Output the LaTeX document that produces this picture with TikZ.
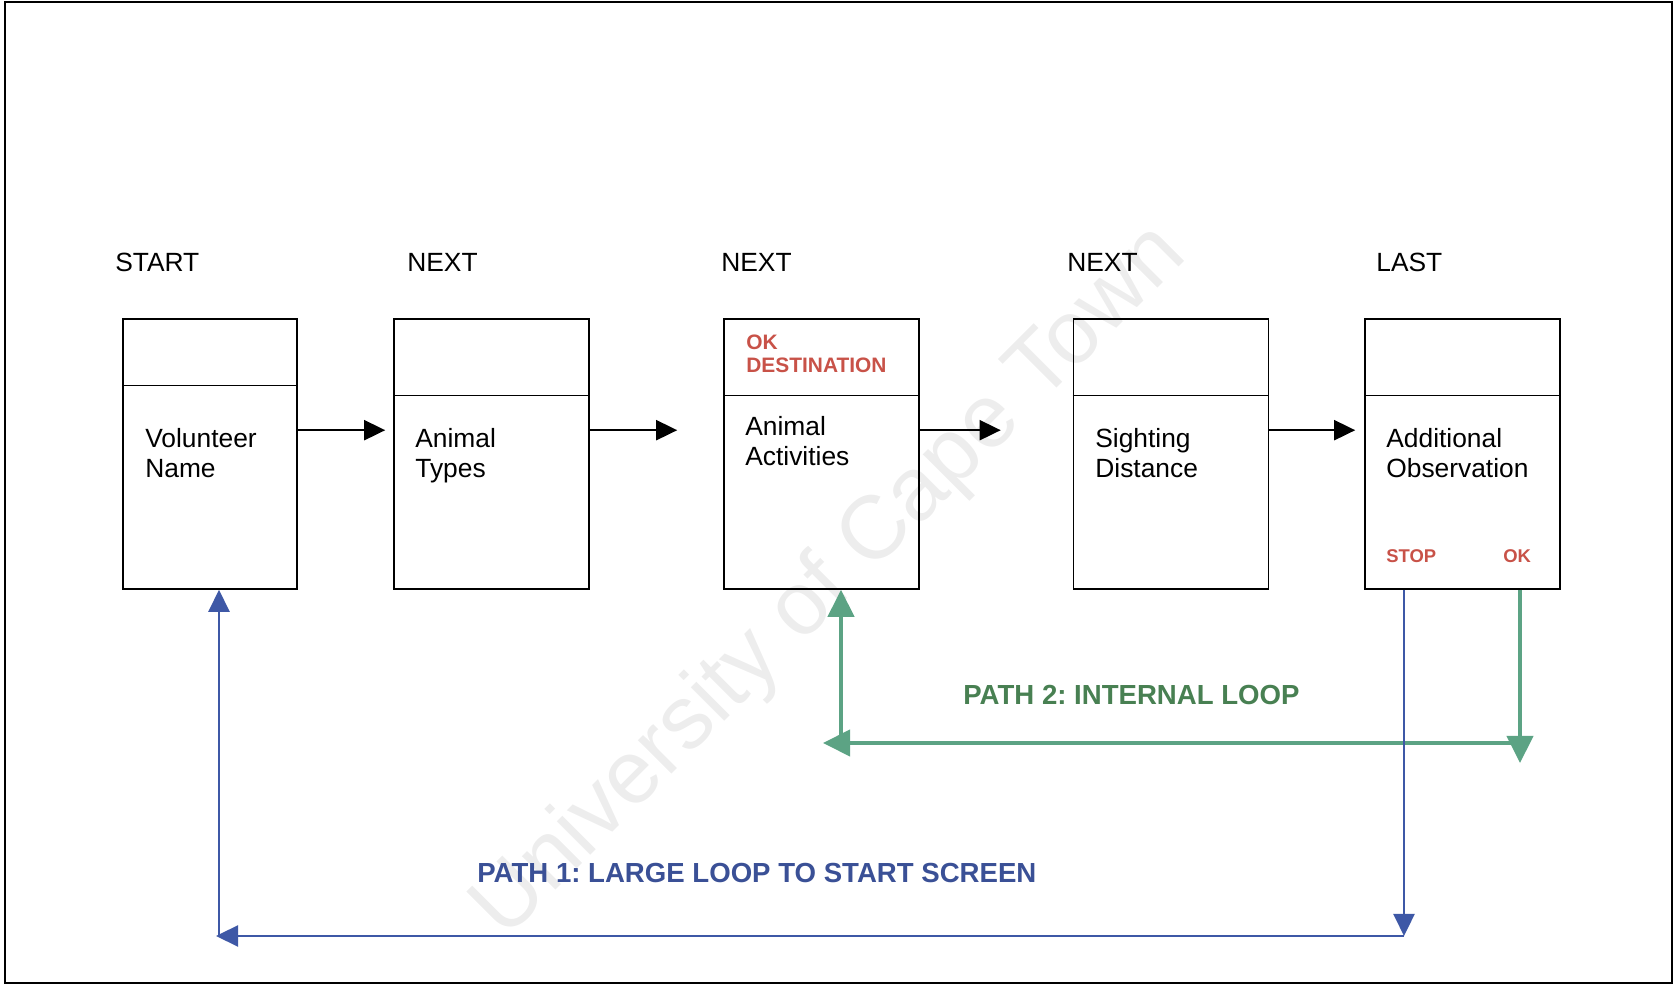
\documentclass[tikz,border=0pt]{standalone}
\usepackage{fontspec}
\setmainfont{Liberation Sans}
\usetikzlibrary{arrows.meta}
\frenchspacing

\definecolor{okred}{RGB}{200,82,72}
\definecolor{loopgreen}{RGB}{92,163,132}
\definecolor{labelgreen}{RGB}{72,128,82}
\definecolor{loopblue}{RGB}{62,88,166}
\definecolor{labelblue}{RGB}{58,80,150}

\begin{document}
\begin{tikzpicture}[
    screen/.style={rectangle, draw, line width=0.9pt, minimum width=3.9cm, minimum height=5.4cm, inner sep=0pt},
    divider/.style={line width=0.7pt},
    hdr/.style={anchor=base west, inner sep=0pt, font=\fontsize{15}{17}\selectfont},
    boxtext/.style={anchor=north west, align=left, inner sep=0pt, font=\fontsize{15}{17}\selectfont},
    redtext/.style={inner sep=0pt, align=left, text=okred, font=\bfseries\fontsize{11.9}{13}\selectfont},
    pathlabel/.style={anchor=base west, inner sep=0pt, font=\bfseries\fontsize{15.7}{18}\selectfont},
    flow/.style={-{Triangle[length=4.2mm, width=4mm]}, line width=1.1pt},
    greenflow/.style={-{Triangle[length=5.4mm, width=5.2mm]}, line width=2.4pt, draw=loopgreen, fill=loopgreen},
    blueflow/.style={-{Triangle[length=4.4mm, width=4.2mm]}, line width=1.3pt, draw=loopblue, fill=loopblue},
    watermark/.style={rotate=45, text=black!7, font=\fontsize{51}{53}\selectfont}
]
\useasboundingbox (0,0) rectangle (33.46,19.70);
% Faint stamp behind everything
\node[watermark] (wm) at (16.62,8.06) {University of Cape Town};
% Outer frame
\draw[line width=1pt] (0.10,0.04) rectangle (33.44,19.66);
% Step headings
\node[hdr] (h1) at (2.30,14.26) {START};
\node[hdr] (h2) at (8.14,14.26) {NEXT};
\node[hdr] (h3) at (14.42,14.26) {NEXT};
\node[hdr] (h4) at (21.34,14.26) {NEXT};
\node[hdr] (h5) at (27.52,14.26) {LAST};
% Screens
\node[screen, minimum width=3.48cm] (s1) at (4.20,10.62) {};
\node[screen] (s2) at (9.83,10.62) {};
\node[screen] (s3) at (16.43,10.62) {};
\node[screen] (s4) at (23.42,10.62) {};
\node[screen] (s5) at (29.25,10.62) {};
\draw[divider] ([yshift=-1.34cm]s1.north west) -- ([yshift=-1.34cm]s1.north east);
\foreach \s in {s2,s3,s4,s5}
    \draw[divider] ([yshift=-1.54cm]\s.north west) -- ([yshift=-1.54cm]\s.north east);
% Screen contents
\node[boxtext] (t1) at (2.90,11.14) {Volunteer\\Name};
\node[boxtext] (t2) at (8.30,11.14) {Animal\\Types};
\node[boxtext] (t3) at (14.90,11.38) {Animal\\Activities};
\node[boxtext] (t4) at (21.90,11.14) {Sighting\\Distance};
\node[boxtext] (t5) at (27.72,11.14) {Additional\\Observation};
\node[redtext, anchor=north west] (okdest) at (14.92,13.00) {OK\\DESTINATION};
\node[redtext, anchor=base west, font=\bfseries\fontsize{10.5}{12}\selectfont] (stop) at (27.72,8.44) {STOP};
\node[redtext, anchor=base west, font=\bfseries\fontsize{10.5}{12}\selectfont] (ok) at (30.06,8.44) {OK};
% Forward arrows
\draw[flow, shorten >=0.16cm] ([yshift=-2.24cm]s1.north east) -- ([yshift=-2.24cm]s2.north west);
\draw[flow, shorten >=0.92cm] ([yshift=-2.24cm]s2.north east) -- ([yshift=-2.24cm]s3.north west);
\draw[flow, shorten >=1.44cm] ([yshift=-2.24cm]s3.north east) -- ([yshift=-2.24cm]s4.north west);
\draw[flow, shorten >=0.18cm] ([yshift=-2.24cm]s4.north east) -- ([yshift=-2.24cm]s5.north west);
% Path 2: internal loop
\coordinate (gR) at (30.40,4.84);
\coordinate (gL) at (16.46,4.84);
\coordinate (gU) at (16.82,4.84);
\draw[greenflow] (s5.south -| gR) -- ([yshift=-0.4cm]gR);
\draw[greenflow] (gR) -- (gL);
\draw[greenflow] (gU) -- (gU |- s3.south);
\node[pathlabel, text=labelgreen] (p2) at (19.26,5.60) {PATH 2: INTERNAL LOOP};
% Path 1: back to the start screen
\coordinate (bR) at (28.08,0.98);
\coordinate (bL) at (4.32,0.98);
\coordinate (bU) at (4.38,0.98);
\draw[blueflow] (s5.south -| bR) -- (bR);
\draw[blueflow] (bR) -- (bL);
\draw[blueflow] (bU) -- (bU |- s1.south);
\node[pathlabel, text=labelblue] (p1) at (9.54,2.04) {PATH 1: LARGE LOOP TO START SCREEN};
\end{tikzpicture}
\end{document}
